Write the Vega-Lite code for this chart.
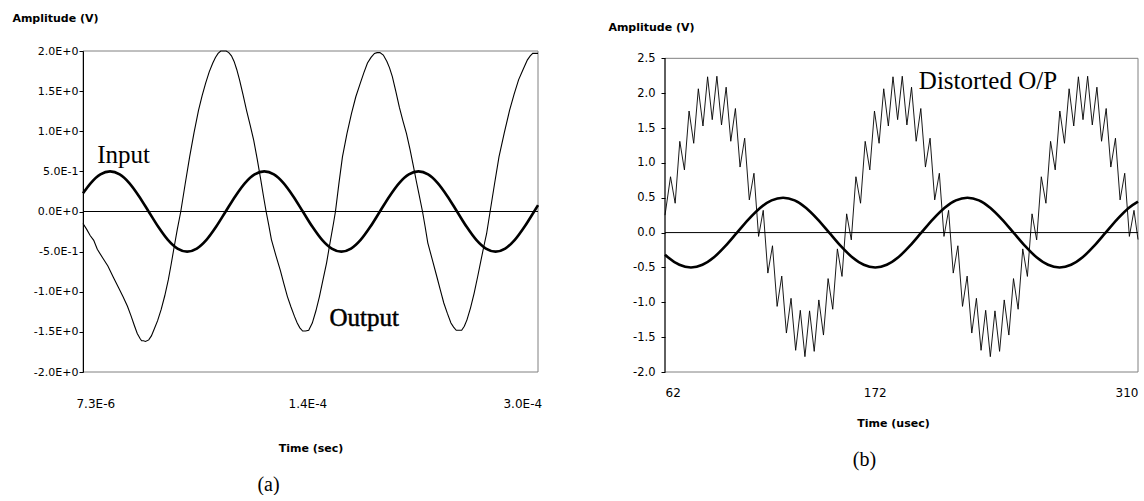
{
  "$schema": "https://vega.github.io/schema/vega-lite/v6.json",
  "padding": {"left": 11, "top": 12, "right": 0, "bottom": 0},
  "background": "white",
  "config": {"view": {"stroke": null}, "axis": {"grid": false, "labelOverlap": false, "labelBound": false}},
  "spacing": 63,
  "datasets": {
    "a_input": [
      {"t":7.3,"v":0.226},{"t":12.3,"v":0.354},{"t":18.5,"v":0.462},{"t":24.7,"v":0.5},{"t":30.9,"v":0.462},{"t":37.1,"v":0.354},{"t":43.3,"v":0.191},{"t":49.5,"v":0},{"t":55.7,"v":-0.191},{"t":61.9,"v":-0.354},{"t":68.1,"v":-0.462},{"t":74.3,"v":-0.5},{"t":80.5,"v":-0.462},{"t":86.7,"v":-0.354},{"t":92.9,"v":-0.191},{"t":99.1,"v":0},{"t":105.3,"v":0.191},{"t":111.5,"v":0.354},{"t":117.7,"v":0.462},{"t":123.9,"v":0.5},{"t":130.1,"v":0.462},{"t":136.3,"v":0.354},{"t":142.5,"v":0.191},{"t":148.7,"v":0},{"t":154.9,"v":-0.191},{"t":161.1,"v":-0.354},{"t":167.3,"v":-0.462},{"t":173.5,"v":-0.5},{"t":179.7,"v":-0.462},{"t":185.9,"v":-0.354},{"t":192.1,"v":-0.191},{"t":198.3,"v":0},{"t":204.5,"v":0.191},{"t":210.7,"v":0.354},{"t":216.9,"v":0.462},{"t":223.1,"v":0.5},{"t":229.3,"v":0.462},{"t":235.5,"v":0.354},{"t":241.7,"v":0.191},{"t":247.9,"v":0},{"t":254.1,"v":-0.191},{"t":260.3,"v":-0.354},{"t":266.5,"v":-0.462},{"t":272.7,"v":-0.5},{"t":278.9,"v":-0.462},{"t":285.1,"v":-0.354},{"t":291.3,"v":-0.191},{"t":297.5,"v":0},{"t":300,"v":0.079}
    ],
    "a_output": [
      {"t":7.3,"v":-0.15},{"t":9.6,"v":-0.22},{"t":11.9,"v":-0.3},{"t":14.2,"v":-0.36},{"t":16.5,"v":-0.47},{"t":20.0,"v":-0.58},{"t":23.3,"v":-0.68},{"t":26.8,"v":-0.82},{"t":30.2,"v":-0.95},{"t":33.0,"v":-1.06},{"t":35.9,"v":-1.18},{"t":38.2,"v":-1.3},{"t":40.5,"v":-1.43},{"t":42.2,"v":-1.52},{"t":43.9,"v":-1.58},{"t":45.0,"v":-1.61},{"t":46.2,"v":-1.61},{"t":47.5,"v":-1.62},{"t":49.6,"v":-1.6},{"t":51.3,"v":-1.55},{"t":53.0,"v":-1.47},{"t":55.3,"v":-1.36},{"t":57.6,"v":-1.22},{"t":59.9,"v":-1.05},{"t":62.2,"v":-0.85},{"t":63.9,"v":-0.67},{"t":65.6,"v":-0.48},{"t":67.9,"v":-0.23},{"t":70.2,"v":0.0},{"t":73.0,"v":0.34},{"t":75.9,"v":0.68},{"t":78.7,"v":0.98},{"t":81.6,"v":1.26},{"t":83.9,"v":1.44},{"t":86.2,"v":1.6},{"t":88.5,"v":1.74},{"t":90.8,"v":1.85},{"t":92.5,"v":1.92},{"t":94.2,"v":1.97},{"t":95.9,"v":2.0},{"t":97.6,"v":2.0},{"t":99.4,"v":2.0},{"t":101.1,"v":1.98},{"t":102.8,"v":1.94},{"t":104.5,"v":1.87},{"t":106.2,"v":1.77},{"t":108.0,"v":1.64},{"t":110.2,"v":1.46},{"t":112.5,"v":1.26},{"t":114.8,"v":1.08},{"t":117.1,"v":0.89},{"t":119.4,"v":0.65},{"t":121.7,"v":0.39},{"t":123.4,"v":0.19},{"t":125.1,"v":0.0},{"t":126.8,"v":-0.17},{"t":128.5,"v":-0.35},{"t":131.4,"v":-0.55},{"t":134.2,"v":-0.73},{"t":136.5,"v":-0.9},{"t":138.8,"v":-1.06},{"t":141.1,"v":-1.19},{"t":143.4,"v":-1.31},{"t":145.1,"v":-1.39},{"t":146.8,"v":-1.45},{"t":148.6,"v":-1.49},{"t":150.5,"v":-1.49},{"t":152.5,"v":-1.48},{"t":154.8,"v":-1.39},{"t":157.1,"v":-1.24},{"t":159.4,"v":-1.06},{"t":161.7,"v":-0.85},{"t":164.0,"v":-0.64},{"t":166.2,"v":-0.39},{"t":168.5,"v":-0.14},{"t":169.7,"v":0.0},{"t":172.0,"v":0.36},{"t":174.2,"v":0.68},{"t":177.1,"v":0.97},{"t":180.0,"v":1.22},{"t":182.8,"v":1.43},{"t":185.7,"v":1.6},{"t":188.0,"v":1.73},{"t":190.3,"v":1.85},{"t":192.6,"v":1.92},{"t":194.8,"v":1.97},{"t":196.5,"v":1.98},{"t":198.3,"v":1.98},{"t":200.5,"v":1.95},{"t":202.8,"v":1.87},{"t":204.5,"v":1.79},{"t":206.3,"v":1.68},{"t":208.5,"v":1.5},{"t":210.8,"v":1.3},{"t":213.1,"v":1.13},{"t":215.4,"v":0.97},{"t":217.7,"v":0.77},{"t":220.0,"v":0.55},{"t":221.7,"v":0.38},{"t":223.4,"v":0.22},{"t":225.7,"v":0.0},{"t":227.4,"v":-0.19},{"t":229.1,"v":-0.39},{"t":232.0,"v":-0.6},{"t":234.9,"v":-0.81},{"t":237.2,"v":-0.98},{"t":239.4,"v":-1.14},{"t":241.7,"v":-1.27},{"t":244.0,"v":-1.39},{"t":245.7,"v":-1.44},{"t":247.4,"v":-1.48},{"t":249.1,"v":-1.48},{"t":250.9,"v":-1.48},{"t":252.6,"v":-1.43},{"t":254.3,"v":-1.35},{"t":256.6,"v":-1.2},{"t":258.9,"v":-1.02},{"t":261.2,"v":-0.81},{"t":263.4,"v":-0.6},{"t":265.2,"v":-0.43},{"t":266.9,"v":-0.28},{"t":269.2,"v":0.0},{"t":272.0,"v":0.34},{"t":274.9,"v":0.68},{"t":278.3,"v":0.98},{"t":281.7,"v":1.26},{"t":284.6,"v":1.46},{"t":287.5,"v":1.64},{"t":290.4,"v":1.77},{"t":293.2,"v":1.89},{"t":295.0,"v":1.94},{"t":296.6,"v":1.97},{"t":298.3,"v":1.97},{"t":300.0,"v":1.97}
    ],
    "b_input": [
      {"t":62,"v":-0.317},{"t":63.52,"v":-0.354},{"t":69.56,"v":-0.462},{"t":75.6,"v":-0.5},{"t":81.64,"v":-0.462},{"t":87.68,"v":-0.354},{"t":93.72,"v":-0.191},{"t":99.76,"v":0},{"t":105.8,"v":0.191},{"t":111.84,"v":0.354},{"t":117.88,"v":0.462},{"t":123.92,"v":0.5},{"t":129.96,"v":0.462},{"t":136.0,"v":0.354},{"t":142.04,"v":0.191},{"t":148.08,"v":0},{"t":154.12,"v":-0.191},{"t":160.16,"v":-0.354},{"t":166.2,"v":-0.462},{"t":172.24,"v":-0.5},{"t":178.28,"v":-0.462},{"t":184.32,"v":-0.354},{"t":190.36,"v":-0.191},{"t":196.4,"v":0},{"t":202.44,"v":0.191},{"t":208.48,"v":0.354},{"t":214.52,"v":0.462},{"t":220.56,"v":0.5},{"t":226.6,"v":0.462},{"t":232.64,"v":0.354},{"t":238.68,"v":0.191},{"t":244.72,"v":0},{"t":250.76,"v":-0.191},{"t":256.8,"v":-0.354},{"t":262.84,"v":-0.462},{"t":268.88,"v":-0.5},{"t":274.92,"v":-0.462},{"t":280.96,"v":-0.354},{"t":287.0,"v":-0.191},{"t":293.04,"v":0},{"t":299.08,"v":0.191},{"t":305.12,"v":0.354},{"t":310,"v":0.444}
    ],
    "b_output": [
      {"t":62,"v":0.25},{"t":64.9,"v":0.801},{"t":67.33,"v":0.421},{"t":69.76,"v":1.309},{"t":72.19,"v":0.899},{"t":74.62,"v":1.744},{"t":77.05,"v":1.281},{"t":79.48,"v":2.063},{"t":81.91,"v":1.529},{"t":84.34,"v":2.235},{"t":86.77,"v":1.62},{"t":89.2,"v":2.243},{"t":91.63,"v":1.544},{"t":94.06,"v":2.086},{"t":96.49,"v":1.31},{"t":98.92,"v":1.78},{"t":101.35,"v":0.94},{"t":103.78,"v":1.354},{"t":106.21,"v":0.469},{"t":108.64,"v":0.851},{"t":111.07,"v":-0.055},{"t":113.5,"v":0.319},{"t":115.93,"v":-0.581},{"t":118.36,"v":-0.189},{"t":120.79,"v":-1.059},{"t":123.22,"v":-0.624},{"t":125.65,"v":-1.441},{"t":128.08,"v":-0.943},{"t":130.51,"v":-1.689},{"t":132.94,"v":-1.115},{"t":135.37,"v":-1.78},{"t":137.8,"v":-1.123},{"t":140.23,"v":-1.704},{"t":142.66,"v":-0.966},{"t":145.09,"v":-1.47},{"t":147.52,"v":-0.66},{"t":149.95,"v":-1.1},{"t":152.38,"v":-0.234},{"t":154.81,"v":-0.629},{"t":157.24,"v":0.269},{"t":159.67,"v":-0.105},
      {"t":162.1,"v":0.801},{"t":164.53,"v":0.421},{"t":166.96,"v":1.309},{"t":169.39,"v":0.899},{"t":171.82,"v":1.744},{"t":174.25,"v":1.281},{"t":176.68,"v":2.063},{"t":179.11,"v":1.529},{"t":181.54,"v":2.235},{"t":183.97,"v":1.62},{"t":186.4,"v":2.243},{"t":188.83,"v":1.544},{"t":191.26,"v":2.086},{"t":193.69,"v":1.31},{"t":196.12,"v":1.78},{"t":198.55,"v":0.94},{"t":200.98,"v":1.354},{"t":203.41,"v":0.469},{"t":205.84,"v":0.851},{"t":208.27,"v":-0.055},{"t":210.7,"v":0.319},{"t":213.13,"v":-0.581},{"t":215.56,"v":-0.189},{"t":217.99,"v":-1.059},{"t":220.42,"v":-0.624},{"t":222.85,"v":-1.441},{"t":225.28,"v":-0.943},{"t":227.71,"v":-1.689},{"t":230.14,"v":-1.115},{"t":232.57,"v":-1.78},{"t":235.0,"v":-1.123},{"t":237.43,"v":-1.704},{"t":239.86,"v":-0.966},{"t":242.29,"v":-1.47},{"t":244.72,"v":-0.66},{"t":247.15,"v":-1.1},{"t":249.58,"v":-0.234},{"t":252.01,"v":-0.629},{"t":254.44,"v":0.269},{"t":256.87,"v":-0.105},
      {"t":259.3,"v":0.801},{"t":261.73,"v":0.421},{"t":264.16,"v":1.309},{"t":266.59,"v":0.899},{"t":269.02,"v":1.744},{"t":271.45,"v":1.281},{"t":273.88,"v":2.063},{"t":276.31,"v":1.529},{"t":278.74,"v":2.235},{"t":281.17,"v":1.62},{"t":283.6,"v":2.243},{"t":286.03,"v":1.544},{"t":288.46,"v":2.086},{"t":290.89,"v":1.31},{"t":293.32,"v":1.78},{"t":295.75,"v":0.94},{"t":298.18,"v":1.354},{"t":300.61,"v":0.469},{"t":303.04,"v":0.851},{"t":305.47,"v":-0.055},{"t":307.9,"v":0.319},{"t":310,"v":-0.1}
    ]
  },
  "hconcat": [
    {
      "width": 455,
      "height": 321,
      "title": {"text": "(a)", "orient": "bottom", "anchor": "middle", "frame": "group", "dx": -42, "offset": 22, "font": "Liberation Serif", "fontSize": 20, "fontWeight": "normal", "color": "black"},
      "layer": [
        {
          "data": {"values": [{}]},
          "mark": {"type": "rect", "filled": false, "stroke": "#808080", "strokeWidth": 1},
          "encoding": {
            "x": {"datum": 7.3, "type": "quantitative", "scale": {"domain": [7.3, 300], "nice": false, "zero": false}},
            "x2": {"datum": 300},
            "y": {"datum": -2, "type": "quantitative", "scale": {"domain": [-2, 2], "nice": false, "zero": false}},
            "y2": {"datum": 2}
          }
        },
        {
          "data": {"values": [{}]},
          "mark": {"type": "rule", "color": "black", "strokeWidth": 1},
          "encoding": {
            "y": {"datum": 0, "type": "quantitative", "scale": {"domain": [-2, 2], "nice": false, "zero": false}}
          }
        },
        {
          "data": {"name": "a_output"},
          "mark": {"type": "line", "color": "black", "strokeWidth": 1.1},
          "encoding": {
            "x": {"field": "t", "type": "quantitative", "scale": {"domain": [7.3, 300], "nice": false, "zero": false}},
            "y": {"field": "v", "type": "quantitative", "scale": {"domain": [-2, 2], "nice": false, "zero": false}}
          }
        },
        {
          "data": {"name": "a_input"},
          "mark": {"type": "line", "color": "black", "strokeWidth": 2.6, "interpolate": "monotone"},
          "encoding": {
            "x": {"field": "t", "type": "quantitative", "scale": {"domain": [7.3, 300], "nice": false, "zero": false},
              "axis": {"title": "Time (sec)", "values": [15.2, 151.6, 289.9], "labelExpr": "datum.value < 60 ? '7.3E-6' : datum.value < 200 ? '1.4E-4' : '3.0E-4'", "ticks": false, "domain": false, "labelFlush": false, "labelOverlap": false, "labelFont": "DejaVu Sans", "labelFontSize": 12, "labelColor": "black", "labelPadding": 26, "titleFont": "DejaVu Sans", "titleFontSize": 11, "titleFontWeight": "bold", "titleColor": "black", "titlePadding": 33}},
            "y": {"field": "v", "type": "quantitative", "scale": {"domain": [-2, 2], "nice": false, "zero": false},
              "axis": {"title": "Amplitude (V)", "values": [-2, -1.5, -1, -0.5, 0, 0.5, 1, 1.5, 2], "labelExpr": "(datum.value < 0 ? '-' : '') + replace(format(abs(datum.value), '.1e'), 'e', 'E')", "labelOverlap": false, "zindex": 1, "tickSize": 4, "tickColor": "black", "domainColor": "black", "labelFont": "DejaVu Sans", "labelFontSize": 11, "labelColor": "black", "labelPadding": 1, "titleAngle": 0, "titleAlign": "center", "titleBaseline": "middle", "titleX": -28, "titleY": -33, "titleFont": "DejaVu Sans", "titleFontSize": 11, "titleFontWeight": "bold", "titleColor": "black"}}
          }
        },
        {
          "data": {"values": [{}]},
          "mark": {"type": "text", "text": "Input", "font": "Liberation Serif", "fontSize": 25, "align": "left", "baseline": "alphabetic", "color": "black"},
          "encoding": {
            "x": {"datum": 16.4, "type": "quantitative", "scale": {"domain": [7.3, 300], "nice": false, "zero": false}},
            "y": {"datum": 0.61, "type": "quantitative", "scale": {"domain": [-2, 2], "nice": false, "zero": false}}
          }
        },
        {
          "data": {"values": [{}]},
          "mark": {"type": "text", "text": "Output", "font": "Liberation Serif", "fontSize": 25, "align": "left", "baseline": "alphabetic", "color": "black", "stroke": "black", "strokeWidth": 0.5},
          "encoding": {
            "x": {"datum": 165.9, "type": "quantitative", "scale": {"domain": [7.3, 300], "nice": false, "zero": false}},
            "y": {"datum": -1.425, "type": "quantitative", "scale": {"domain": [-2, 2], "nice": false, "zero": false}}
          }
        }
      ]
    },
    {
      "width": 473,
      "height": 321,
      "title": {"text": "(b)", "orient": "bottom", "anchor": "middle", "frame": "group", "dx": -37, "offset": 22, "font": "Liberation Serif", "fontSize": 20, "fontWeight": "normal", "color": "black"},
      "layer": [
        {
          "data": {"values": [{}]},
          "mark": {"type": "rect", "filled": false, "stroke": "#808080", "strokeWidth": 1},
          "encoding": {
            "x": {"datum": 62, "type": "quantitative", "scale": {"domain": [62, 310], "nice": false, "zero": false}},
            "x2": {"datum": 310},
            "y": {"datum": -2, "type": "quantitative", "scale": {"domain": [-2, 2.605], "nice": false, "zero": false}},
            "y2": {"datum": 2.5}
          }
        },
        {
          "data": {"values": [{}]},
          "mark": {"type": "rule", "color": "black", "strokeWidth": 1},
          "encoding": {
            "y": {"datum": 0, "type": "quantitative", "scale": {"domain": [-2, 2.605], "nice": false, "zero": false}}
          }
        },
        {
          "data": {"values": [{}]},
          "mark": {"type": "rule", "color": "black", "strokeWidth": 1},
          "encoding": {
            "x": {"datum": 62, "type": "quantitative", "scale": {"domain": [62, 310], "nice": false, "zero": false}},
            "y": {"datum": -2, "type": "quantitative", "scale": {"domain": [-2, 2.605], "nice": false, "zero": false}},
            "y2": {"datum": 2.5}
          }
        },
        {
          "data": {"name": "b_output"},
          "mark": {"type": "line", "color": "black", "strokeWidth": 0.9},
          "encoding": {
            "x": {"field": "t", "type": "quantitative", "scale": {"domain": [62, 310], "nice": false, "zero": false}},
            "y": {"field": "v", "type": "quantitative", "scale": {"domain": [-2, 2.605], "nice": false, "zero": false}}
          }
        },
        {
          "data": {"name": "b_input"},
          "mark": {"type": "line", "color": "black", "strokeWidth": 2.6, "interpolate": "monotone"},
          "encoding": {
            "x": {"field": "t", "type": "quantitative", "scale": {"domain": [62, 310], "nice": false, "zero": false},
              "axis": {"title": "Time (usec)", "values": [62, 172, 310], "format": "d", "ticks": false, "domain": false, "labelFlush": true, "labelOverlap": false, "labelFont": "DejaVu Sans", "labelFontSize": 12, "labelColor": "black", "labelPadding": 15, "titleFont": "DejaVu Sans", "titleFontSize": 11, "titleFontWeight": "bold", "titleColor": "black", "titlePadding": 19, "titleX": 228}},
            "y": {"field": "v", "type": "quantitative", "scale": {"domain": [-2, 2.605], "nice": false, "zero": false},
              "axis": {"title": "Amplitude (V)", "values": [-2, -1.5, -1, -0.5, 0, 0.5, 1, 1.5, 2, 2.5], "tickCount": 10, "labelExpr": "(datum.value < 0 ? '-' : '') + format(abs(datum.value), '.1f')", "labelOverlap": false, "zindex": 1, "domain": false, "tickSize": 4, "tickColor": "black", "labelFont": "DejaVu Sans", "labelFontSize": 11.5, "labelColor": "black", "labelPadding": 6, "titleAngle": 0, "titleAlign": "center", "titleBaseline": "middle", "titleX": -14, "titleY": -23.4, "titleFont": "DejaVu Sans", "titleFontSize": 11, "titleFontWeight": "bold", "titleColor": "black"}}
          }
        },
        {
          "data": {"values": [{}]},
          "mark": {"type": "text", "text": "Distorted O/P", "font": "Liberation Serif", "fontSize": 25, "align": "left", "baseline": "alphabetic", "color": "black"},
          "encoding": {
            "x": {"datum": 195.1, "type": "quantitative", "scale": {"domain": [62, 310], "nice": false, "zero": false}},
            "y": {"datum": 2.056, "type": "quantitative", "scale": {"domain": [-2, 2.605], "nice": false, "zero": false}}
          }
        }
      ]
    }
  ]
}
